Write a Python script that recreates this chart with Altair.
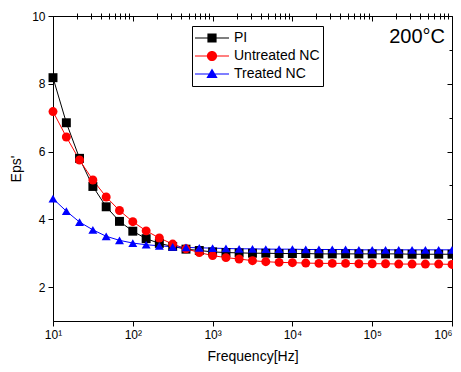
import altair as alt
import pandas as pd

freq = [10, 14.7, 21.5, 31.6, 46.4, 68.1, 100, 147, 215, 316, 464, 681,
        1000, 1470, 2150, 3160, 4640, 6810, 10000, 14700, 21500, 31600, 46400, 68100,
        100000, 147000, 215000, 316000, 464000, 681000, 1000000]
pi_vals = [8.18, 6.85, 5.80, 4.97, 4.37, 3.94, 3.65, 3.43, 3.29, 3.20, 3.12, 3.08,
           3.04, 3.02, 3.01, 3.00, 3.00, 2.99, 2.99, 2.99, 2.98, 2.98, 2.98, 2.98,
           2.98, 2.98, 2.98, 2.97, 2.97, 2.97, 2.97]
untreated_vals = [7.18, 6.43, 5.75, 5.16, 4.66, 4.26, 3.93, 3.66, 3.45, 3.27, 3.13, 3.02,
                  2.93, 2.87, 2.83, 2.78, 2.75, 2.73, 2.72, 2.71, 2.70, 2.70, 2.70, 2.69,
                  2.69, 2.69, 2.68, 2.68, 2.68, 2.68, 2.67]
treated_vals = [4.61, 4.24, 3.92, 3.69, 3.50, 3.38, 3.30, 3.25, 3.22, 3.19, 3.17, 3.16,
                3.15, 3.14, 3.13, 3.13, 3.12, 3.12, 3.12, 3.11, 3.11, 3.11, 3.11, 3.10,
                3.10, 3.10, 3.10, 3.10, 3.10, 3.10, 3.10]
series_names = ["PI", "Untreated NC", "Treated NC"]
series_colors = ["#000000", "#FF0000", "#0000FF"]
major_x = [10, 100, 1000, 10000, 100000, 1000000]
minor_x = [m * 10 ** d for d in range(1, 6) for m in range(2, 10)]
major_y = [2, 4, 6, 8, 10]
minor_y = [1, 3, 5, 7, 9]

rows = []
for name, vals in zip(series_names, [pi_vals, untreated_vals, treated_vals]):
    for f, v in zip(freq, vals):
        rows.append({"freq": f, "eps": v, "series": name})
df = pd.DataFrame(rows)

W, H = 399, 305
FONT = "Liberation Sans"

xs = alt.Scale(type="log", domain=[10, 1000000], nice=False)
ys = alt.Scale(domain=[1, 10], nice=False)
cs = alt.Scale(domain=series_names, range=series_colors)

base = alt.Chart(df)

def xax(**kw):
    d = dict(labels=False, title=None, domain=False, tickColor="black", tickWidth=1, grid=False)
    d.update(kw)
    return alt.Axis(**d)

lines = base.mark_line(strokeWidth=1).encode(
    x=alt.X("freq:Q", scale=xs, axis=alt.Axis(
        values=major_x, title="Frequency[Hz]", titleFont=FONT, titleFontSize=14,
        titleFontWeight="normal", titleColor="black", titlePadding=9,
        labelFont=FONT, labelFontSize=12, labelColor="black", labelPadding=3,
        labelExpr="'10' + ['⁰','¹','²','³','⁴','⁵','⁶'][round(log(datum.value)/LN10)]",
        labelAlign={"condition": {"test": "datum.value >= 1000000", "value": "right"}, "value": "center"},
        tickSize=5, tickColor="black", domainColor="black", labelFlush=False,
        grid=False)),
    y=alt.Y("eps:Q", scale=ys, axis=alt.Axis(
        values=major_y, title="Eps'", titleFont=FONT, titleFontSize=14,
        titleFontWeight="normal", titleColor="black", titlePadding=8,
        labelFont=FONT, labelFontSize=12, labelColor="black", labelPadding=3,
        tickSize=5, tickColor="black", domainColor="black", grid=False)),
    color=alt.Color("series:N", scale=cs, legend=None),
    detail="series:N",
)

points = base.mark_point(filled=True, size=80, opacity=1).encode(
    x=alt.X("freq:Q", scale=xs, axis=None),
    y=alt.Y("eps:Q", scale=ys, axis=None),
    color=alt.Color("series:N", scale=cs, legend=None),
    shape=alt.Shape("series:N", scale=alt.Scale(domain=series_names,
                    range=["square", "circle", "triangle-up"]), legend=None),
)

minor_out = base.mark_point(opacity=0).encode(
    x=alt.X("freq:Q", scale=xs, axis=xax(values=minor_x, tickSize=3)),
    y=alt.Y("eps:Q", scale=ys, axis=xax(values=minor_y, tickSize=3)),
)
major_in = base.mark_point(opacity=0).encode(
    x=alt.X("freq:Q", scale=xs, axis=xax(values=major_x, tickSize=5, orient="bottom", offset=-H)),
    y=alt.Y("eps:Q", scale=ys, axis=xax(values=major_y, tickSize=5, orient="left", offset=-W)),
)
minor_in = base.mark_point(opacity=0).encode(
    x=alt.X("freq:Q", scale=xs, axis=xax(values=minor_x, tickSize=3, orient="bottom", offset=-H)),
    y=alt.Y("eps:Q", scale=ys, axis=xax(values=minor_y, tickSize=3, orient="left", offset=-W)),
)

legend_paths = [
    "M-1,-0.03H1V0.03H-1Z M-0.27,-0.27H0.27V0.27H-0.27Z",
    "M-1,-0.03H1V0.03H-1Z M0.3,0A0.3,0.3 0 1,1 -0.3,0A0.3,0.3 0 1,1 0.3,0Z",
    "M-1,-0.03H1V0.03H-1Z M0,-0.32L0.33,0.24H-0.33Z",
]
legend_layer = base.transform_filter("datum.eps < 0").mark_point(
    filled=True, strokeWidth=0, opacity=1
).encode(
    x=alt.X("freq:Q", scale=xs, axis=None),
    y=alt.Y("eps:Q", scale=ys, axis=None),
    color=alt.Color("series:N", scale=cs, legend=alt.Legend(
        title=None, orient="none", legendX=139, legendY=10,
        strokeColor="black", fillColor="white", padding=3,
        labelFont=FONT, labelFontSize=14, labelColor="black", labelOffset=5,
        symbolSize=1156, symbolOpacity=1, symbolStrokeWidth=0,
        clipHeight=18, rowPadding=0, labelLimit=200)),
    shape=alt.Shape("series:N", scale=alt.Scale(domain=series_names, range=legend_paths)),
)

label = alt.Chart(pd.DataFrame({"t": ["200°C"]})).mark_text(
    font=FONT, fontSize=20, align="right", baseline="middle", color="black"
).encode(text="t:N", x=alt.value(392), y=alt.value(21))

chart = alt.layer(lines, points, minor_out, major_in, minor_in, legend_layer, label).resolve_axis(
    x="independent", y="independent"
).resolve_scale(shape="independent", color="independent").properties(
    width=W, height=H,
    autosize=alt.AutoSizeParams(type="none"),
    padding={"top": 8, "left": 45, "right": 1, "bottom": 43},
).configure_view(stroke="black", strokeWidth=1)

chart.save("out.html", embed_options={"renderer": "svg", "actions": False})
